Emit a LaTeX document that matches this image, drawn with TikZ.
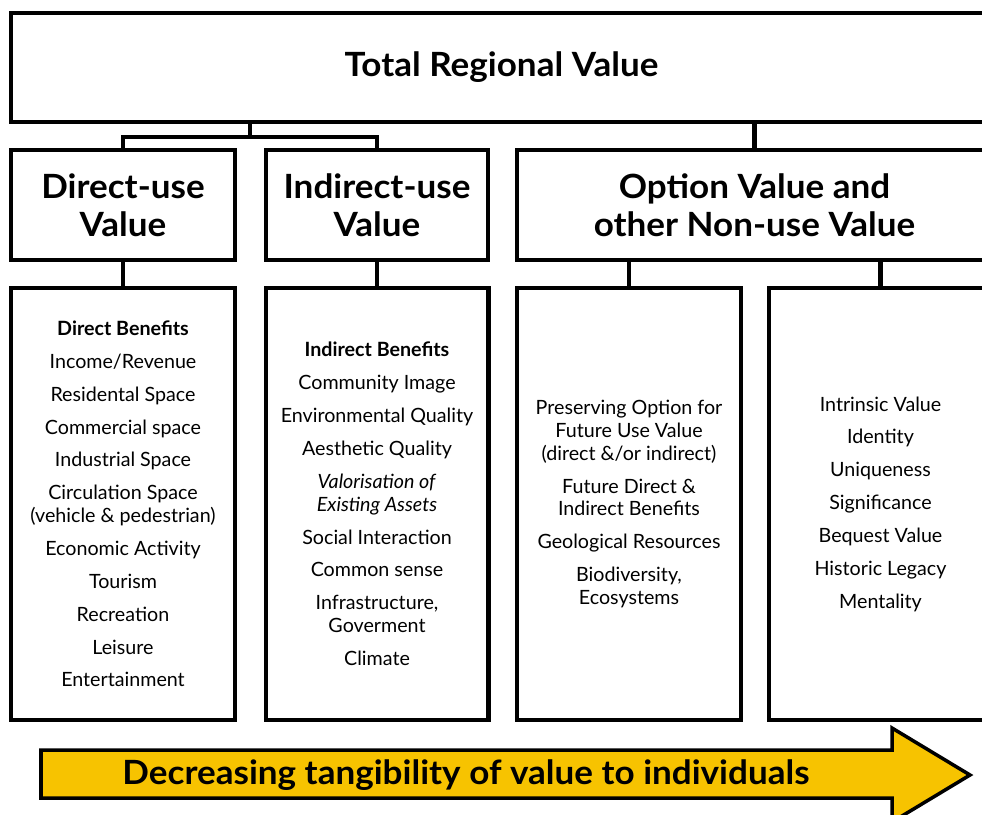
\documentclass[tikz,border=0pt]{standalone}
\usepackage{fontspec}
\setmainfont{Lato}
\newfontfamily\headfont{Lato}[FakeStretch=1.05]
\definecolor{tangible}{HTML}{F7C300}

\begin{document}
\begin{tikzpicture}[x=0.02cm, y=-0.02cm,
	valbox/.style={draw, line width=2.3pt, inner sep=0pt, align=center},
	head/.style={font=\headfont\bfseries\fontsize{19}{21.5}\selectfont},
	list/.style={font=\fontsize{11.2}{13}\selectfont},
	link/.style={line width=2.3pt}]
	\useasboundingbox (0,0) rectangle (982,814);
	\clip (0,0) rectangle (982,814);

	\node (total)[valbox, head, minimum width=19.62cm, minimum height=2.18cm] at (501.5,67.5) {Total Regional Value};

	\node (direct)[valbox, head, minimum width=4.48cm, minimum height=2.2cm] at (123,205) {Direct-use\\Value};
	\node (indirect)[valbox, head, minimum width=4.44cm, minimum height=2.2cm] at (377,205) {Indirect-use\\Value};
	\node (option)[valbox, head, minimum width=9.5cm, minimum height=2.2cm] at (754.5,205) {Option Value and\\other Non-use Value};

	\node (dlist)[valbox, list, minimum width=4.48cm, minimum height=8.64cm] at (123,504) {\textbf{Direct Benefits}\\[5.7pt] Income/Revenue\\[5.7pt] Residental Space\\[5.7pt] Commercial space\\[5.7pt] Industrial Space\\[5.7pt] Circulation Space\\(vehicle \& pedestrian)\\[5.7pt] Economic Activity\\[5.7pt] Tourism\\[5.7pt] Recreation\\[5.7pt] Leisure\\[5.7pt] Entertainment};
	\node (ilist)[valbox, list, minimum width=4.46cm, minimum height=8.64cm] at (377,504) {\textbf{Indirect Benefits}\\[5.7pt] Community Image\\[5.7pt] Environmental Quality\\[5.7pt] Aesthetic Quality\\[5.7pt] \textit{Valorisation of}\\\textit{Existing Assets}\\[5.7pt] Social Interaction\\[5.7pt] Common sense\\[5.7pt] Infrastructure,\\Goverment\\[5.7pt] Climate};
	\node (olist)[valbox, list, minimum width=4.48cm, minimum height=8.64cm] at (629,504) {Preserving Option for\\Future Use Value\\(direct \&/or indirect)\\[5.7pt] Future Direct \&\\Indirect Benefits\\[5.7pt] Geological Resources\\[5.7pt] Biodiversity,\\Ecosystems};
	\node (nlist)[valbox, list, minimum width=4.46cm, minimum height=8.64cm] at (880.5,504) {Intrinsic Value\\[5.7pt] Identity\\[5.7pt] Uniqueness\\[5.7pt] Significance\\[5.7pt] Bequest Value\\[5.7pt] Historic Legacy\\[5.7pt] Mentality};

	% tree links
	\coordinate (split) at (250,137);
	\draw[link] (direct.north) |- (split) -| (indirect.north);
	\draw[link] (split) -- (split |- total.south);
	\draw[link] (option.north) -- (option.north |- total.south);
	\draw[link] (direct.south) -- (dlist.north);
	\draw[link] (indirect.south) -- (ilist.north);
	\draw[link] (olist.north) -- (olist.north |- option.south);
	\draw[link] (nlist.north) -- (nlist.north |- option.south);

	% tangibility arrow
	\draw[line width=2pt, fill=tangible, line join=miter] (41,750) -- (892,750) -- (892,728) -- (970,775) -- (892,822) -- (892,798) -- (41,798) -- cycle;
	\node (tangibility)[head] at (466,775) {Decreasing tangibility of value to individuals};
\end{tikzpicture}
\end{document}
